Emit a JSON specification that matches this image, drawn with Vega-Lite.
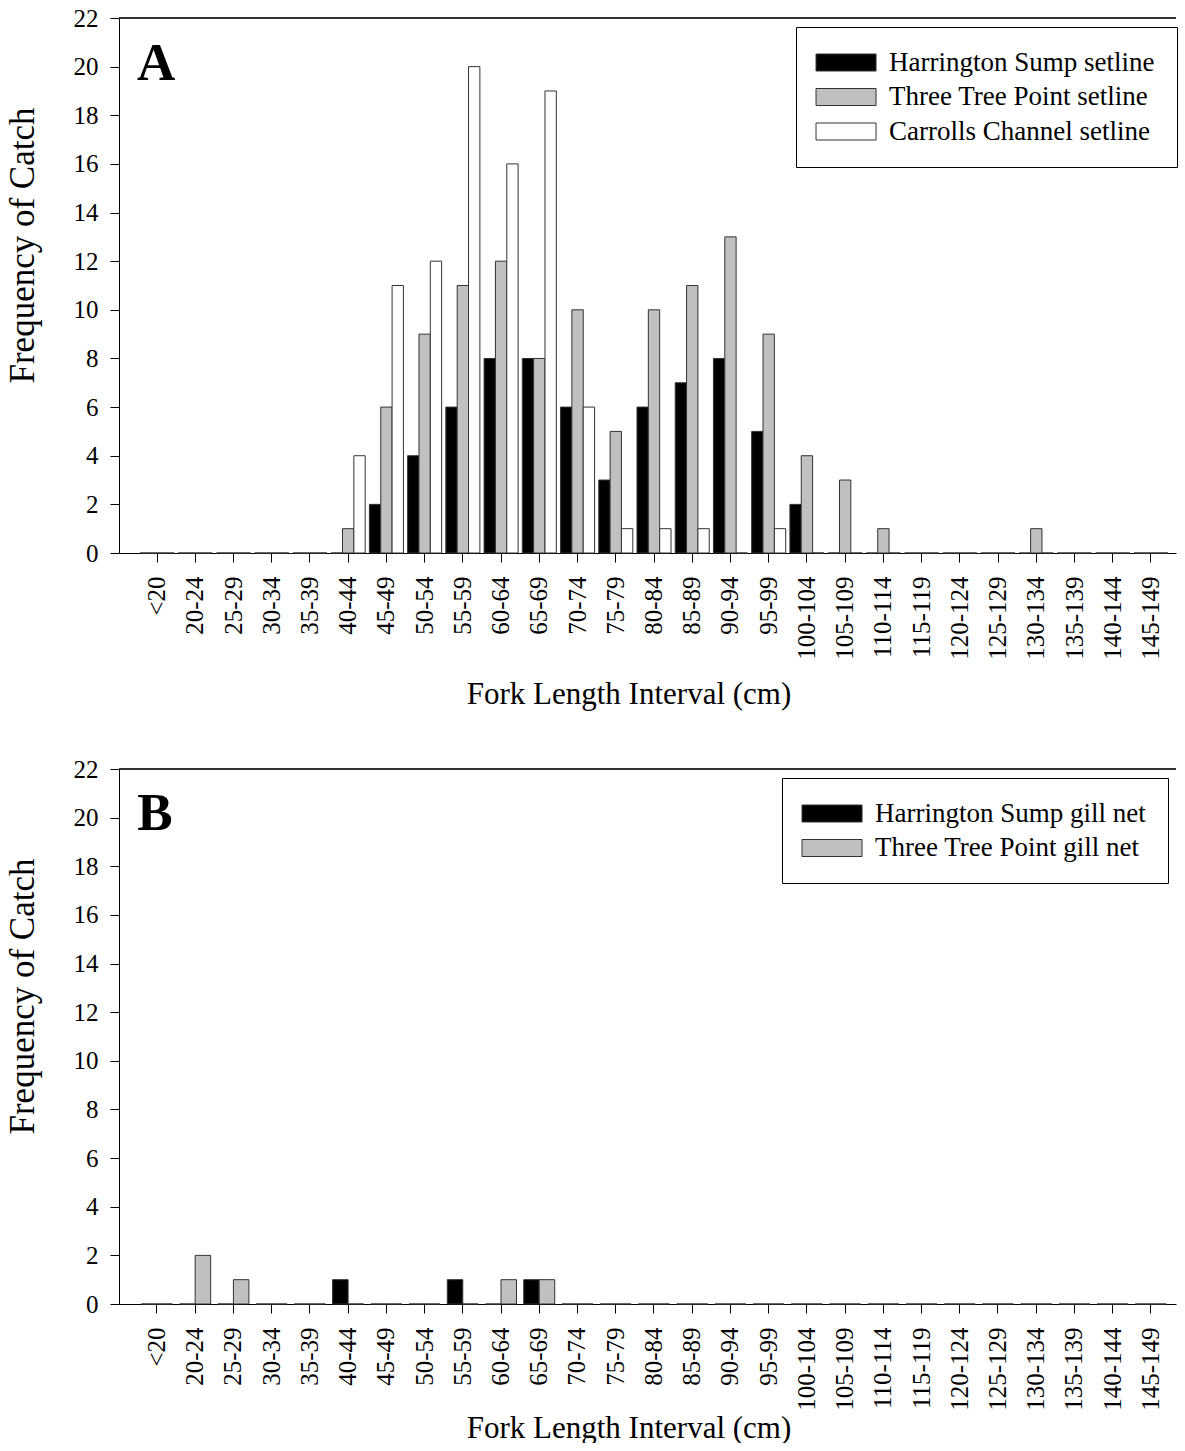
{
  "$schema": "https://vega.github.io/schema/vega-lite/v6.json",
  "background": "white",
  "padding": {"left": 5, "top": 6, "right": 0, "bottom": 0},
  "spacing": 48,
  "resolve": {"scale": {"x": "independent", "xOffset": "independent", "color": "independent", "y": "independent"}, "legend": {"color": "independent"}},
  "config": {
    "view": {"stroke": null},
    "font": "Liberation Serif",
    "axis": {
      "labelFont": "Liberation Serif",
      "titleFont": "Liberation Serif",
      "labelColor": "black",
      "titleColor": "black",
      "tickColor": "black",
      "domainColor": "black",
      "grid": false,
      "titleFontWeight": "normal",
      "labelFontSize": 25,
      "titleFontSize": 31,
      "tickSize": 9
    },
    "legend": {
      "labelFont": "Liberation Serif",
      "labelFontSize": 27,
      "labelColor": "black",
      "labelLimit": 400,
      "strokeColor": "black",
      "fillColor": "white",
      "padding": 22,
      "symbolType": "M-1.82,-1H5.24V1H-1.82Z",
      "symbolSize": 289,
      "symbolStrokeColor": "#333333",
      "symbolStrokeWidth": 1,
      "labelOffset": 44,
      "rowPadding": 6.5
    }
  },
  "datasets": {
    "A": [
      {"interval": "<20", "series": "Harrington Sump setline", "count": 0},
      {"interval": "<20", "series": "Three Tree Point setline", "count": 0},
      {"interval": "<20", "series": "Carrolls Channel setline", "count": 0},
      {"interval": "20-24", "series": "Harrington Sump setline", "count": 0},
      {"interval": "20-24", "series": "Three Tree Point setline", "count": 0},
      {"interval": "20-24", "series": "Carrolls Channel setline", "count": 0},
      {"interval": "25-29", "series": "Harrington Sump setline", "count": 0},
      {"interval": "25-29", "series": "Three Tree Point setline", "count": 0},
      {"interval": "25-29", "series": "Carrolls Channel setline", "count": 0},
      {"interval": "30-34", "series": "Harrington Sump setline", "count": 0},
      {"interval": "30-34", "series": "Three Tree Point setline", "count": 0},
      {"interval": "30-34", "series": "Carrolls Channel setline", "count": 0},
      {"interval": "35-39", "series": "Harrington Sump setline", "count": 0},
      {"interval": "35-39", "series": "Three Tree Point setline", "count": 0},
      {"interval": "35-39", "series": "Carrolls Channel setline", "count": 0},
      {"interval": "40-44", "series": "Harrington Sump setline", "count": 0},
      {"interval": "40-44", "series": "Three Tree Point setline", "count": 1},
      {"interval": "40-44", "series": "Carrolls Channel setline", "count": 4},
      {"interval": "45-49", "series": "Harrington Sump setline", "count": 2},
      {"interval": "45-49", "series": "Three Tree Point setline", "count": 6},
      {"interval": "45-49", "series": "Carrolls Channel setline", "count": 11},
      {"interval": "50-54", "series": "Harrington Sump setline", "count": 4},
      {"interval": "50-54", "series": "Three Tree Point setline", "count": 9},
      {"interval": "50-54", "series": "Carrolls Channel setline", "count": 12},
      {"interval": "55-59", "series": "Harrington Sump setline", "count": 6},
      {"interval": "55-59", "series": "Three Tree Point setline", "count": 11},
      {"interval": "55-59", "series": "Carrolls Channel setline", "count": 20},
      {"interval": "60-64", "series": "Harrington Sump setline", "count": 8},
      {"interval": "60-64", "series": "Three Tree Point setline", "count": 12},
      {"interval": "60-64", "series": "Carrolls Channel setline", "count": 16},
      {"interval": "65-69", "series": "Harrington Sump setline", "count": 8},
      {"interval": "65-69", "series": "Three Tree Point setline", "count": 8},
      {"interval": "65-69", "series": "Carrolls Channel setline", "count": 19},
      {"interval": "70-74", "series": "Harrington Sump setline", "count": 6},
      {"interval": "70-74", "series": "Three Tree Point setline", "count": 10},
      {"interval": "70-74", "series": "Carrolls Channel setline", "count": 6},
      {"interval": "75-79", "series": "Harrington Sump setline", "count": 3},
      {"interval": "75-79", "series": "Three Tree Point setline", "count": 5},
      {"interval": "75-79", "series": "Carrolls Channel setline", "count": 1},
      {"interval": "80-84", "series": "Harrington Sump setline", "count": 6},
      {"interval": "80-84", "series": "Three Tree Point setline", "count": 10},
      {"interval": "80-84", "series": "Carrolls Channel setline", "count": 1},
      {"interval": "85-89", "series": "Harrington Sump setline", "count": 7},
      {"interval": "85-89", "series": "Three Tree Point setline", "count": 11},
      {"interval": "85-89", "series": "Carrolls Channel setline", "count": 1},
      {"interval": "90-94", "series": "Harrington Sump setline", "count": 8},
      {"interval": "90-94", "series": "Three Tree Point setline", "count": 13},
      {"interval": "90-94", "series": "Carrolls Channel setline", "count": 0},
      {"interval": "95-99", "series": "Harrington Sump setline", "count": 5},
      {"interval": "95-99", "series": "Three Tree Point setline", "count": 9},
      {"interval": "95-99", "series": "Carrolls Channel setline", "count": 1},
      {"interval": "100-104", "series": "Harrington Sump setline", "count": 2},
      {"interval": "100-104", "series": "Three Tree Point setline", "count": 4},
      {"interval": "100-104", "series": "Carrolls Channel setline", "count": 0},
      {"interval": "105-109", "series": "Harrington Sump setline", "count": 0},
      {"interval": "105-109", "series": "Three Tree Point setline", "count": 3},
      {"interval": "105-109", "series": "Carrolls Channel setline", "count": 0},
      {"interval": "110-114", "series": "Harrington Sump setline", "count": 0},
      {"interval": "110-114", "series": "Three Tree Point setline", "count": 1},
      {"interval": "110-114", "series": "Carrolls Channel setline", "count": 0},
      {"interval": "115-119", "series": "Harrington Sump setline", "count": 0},
      {"interval": "115-119", "series": "Three Tree Point setline", "count": 0},
      {"interval": "115-119", "series": "Carrolls Channel setline", "count": 0},
      {"interval": "120-124", "series": "Harrington Sump setline", "count": 0},
      {"interval": "120-124", "series": "Three Tree Point setline", "count": 0},
      {"interval": "120-124", "series": "Carrolls Channel setline", "count": 0},
      {"interval": "125-129", "series": "Harrington Sump setline", "count": 0},
      {"interval": "125-129", "series": "Three Tree Point setline", "count": 0},
      {"interval": "125-129", "series": "Carrolls Channel setline", "count": 0},
      {"interval": "130-134", "series": "Harrington Sump setline", "count": 0},
      {"interval": "130-134", "series": "Three Tree Point setline", "count": 1},
      {"interval": "130-134", "series": "Carrolls Channel setline", "count": 0},
      {"interval": "135-139", "series": "Harrington Sump setline", "count": 0},
      {"interval": "135-139", "series": "Three Tree Point setline", "count": 0},
      {"interval": "135-139", "series": "Carrolls Channel setline", "count": 0},
      {"interval": "140-144", "series": "Harrington Sump setline", "count": 0},
      {"interval": "140-144", "series": "Three Tree Point setline", "count": 0},
      {"interval": "140-144", "series": "Carrolls Channel setline", "count": 0},
      {"interval": "145-149", "series": "Harrington Sump setline", "count": 0},
      {"interval": "145-149", "series": "Three Tree Point setline", "count": 0},
      {"interval": "145-149", "series": "Carrolls Channel setline", "count": 0}
    ],
    "B": [
      {"interval": "<20", "series": "Harrington Sump gill net", "count": 0},
      {"interval": "<20", "series": "Three Tree Point gill net", "count": 0},
      {"interval": "20-24", "series": "Harrington Sump gill net", "count": 0},
      {"interval": "20-24", "series": "Three Tree Point gill net", "count": 2},
      {"interval": "25-29", "series": "Harrington Sump gill net", "count": 0},
      {"interval": "25-29", "series": "Three Tree Point gill net", "count": 1},
      {"interval": "30-34", "series": "Harrington Sump gill net", "count": 0},
      {"interval": "30-34", "series": "Three Tree Point gill net", "count": 0},
      {"interval": "35-39", "series": "Harrington Sump gill net", "count": 0},
      {"interval": "35-39", "series": "Three Tree Point gill net", "count": 0},
      {"interval": "40-44", "series": "Harrington Sump gill net", "count": 1},
      {"interval": "40-44", "series": "Three Tree Point gill net", "count": 0},
      {"interval": "45-49", "series": "Harrington Sump gill net", "count": 0},
      {"interval": "45-49", "series": "Three Tree Point gill net", "count": 0},
      {"interval": "50-54", "series": "Harrington Sump gill net", "count": 0},
      {"interval": "50-54", "series": "Three Tree Point gill net", "count": 0},
      {"interval": "55-59", "series": "Harrington Sump gill net", "count": 1},
      {"interval": "55-59", "series": "Three Tree Point gill net", "count": 0},
      {"interval": "60-64", "series": "Harrington Sump gill net", "count": 0},
      {"interval": "60-64", "series": "Three Tree Point gill net", "count": 1},
      {"interval": "65-69", "series": "Harrington Sump gill net", "count": 1},
      {"interval": "65-69", "series": "Three Tree Point gill net", "count": 1},
      {"interval": "70-74", "series": "Harrington Sump gill net", "count": 0},
      {"interval": "70-74", "series": "Three Tree Point gill net", "count": 0},
      {"interval": "75-79", "series": "Harrington Sump gill net", "count": 0},
      {"interval": "75-79", "series": "Three Tree Point gill net", "count": 0},
      {"interval": "80-84", "series": "Harrington Sump gill net", "count": 0},
      {"interval": "80-84", "series": "Three Tree Point gill net", "count": 0},
      {"interval": "85-89", "series": "Harrington Sump gill net", "count": 0},
      {"interval": "85-89", "series": "Three Tree Point gill net", "count": 0},
      {"interval": "90-94", "series": "Harrington Sump gill net", "count": 0},
      {"interval": "90-94", "series": "Three Tree Point gill net", "count": 0},
      {"interval": "95-99", "series": "Harrington Sump gill net", "count": 0},
      {"interval": "95-99", "series": "Three Tree Point gill net", "count": 0},
      {"interval": "100-104", "series": "Harrington Sump gill net", "count": 0},
      {"interval": "100-104", "series": "Three Tree Point gill net", "count": 0},
      {"interval": "105-109", "series": "Harrington Sump gill net", "count": 0},
      {"interval": "105-109", "series": "Three Tree Point gill net", "count": 0},
      {"interval": "110-114", "series": "Harrington Sump gill net", "count": 0},
      {"interval": "110-114", "series": "Three Tree Point gill net", "count": 0},
      {"interval": "115-119", "series": "Harrington Sump gill net", "count": 0},
      {"interval": "115-119", "series": "Three Tree Point gill net", "count": 0},
      {"interval": "120-124", "series": "Harrington Sump gill net", "count": 0},
      {"interval": "120-124", "series": "Three Tree Point gill net", "count": 0},
      {"interval": "125-129", "series": "Harrington Sump gill net", "count": 0},
      {"interval": "125-129", "series": "Three Tree Point gill net", "count": 0},
      {"interval": "130-134", "series": "Harrington Sump gill net", "count": 0},
      {"interval": "130-134", "series": "Three Tree Point gill net", "count": 0},
      {"interval": "135-139", "series": "Harrington Sump gill net", "count": 0},
      {"interval": "135-139", "series": "Three Tree Point gill net", "count": 0},
      {"interval": "140-144", "series": "Harrington Sump gill net", "count": 0},
      {"interval": "140-144", "series": "Three Tree Point gill net", "count": 0},
      {"interval": "145-149", "series": "Harrington Sump gill net", "count": 0},
      {"interval": "145-149", "series": "Three Tree Point gill net", "count": 0}
    ]
  },
  "vconcat": [
    {
      "width": 1057,
      "height": 535,
      "data": {"name": "A"},
      "layer": [
        {
          "mark": {"type": "bar", "stroke": "#333333", "strokeWidth": 1},
          "encoding": {
            "x": {
              "field": "interval", "type": "nominal",
              "scale": {"domain": ["<20","20-24","25-29","30-34","35-39","40-44","45-49","50-54","55-59","60-64","65-69","70-74","75-79","80-84","85-89","90-94","95-99","100-104","105-109","110-114","115-119","120-124","125-129","130-134","135-139","140-144","145-149"], "paddingInner": 0.11, "paddingOuter": 0.38, "align": 0.724},
              "axis": {"title": "Fork Length Interval (cm)", "labelAngle": -90, "labelPadding": 14, "labelOverlap": false, "titleX": 509.5, "titleY": 150, "titleBaseline": "alphabetic"}
            },
            "xOffset": {
              "field": "series", "type": "nominal",
              "scale": {"domain": ["Harrington Sump setline", "Three Tree Point setline", "Carrolls Channel setline"], "paddingInner": 0, "paddingOuter": 0}
            },
            "y": {
              "field": "count", "type": "quantitative",
              "scale": {"domain": [0, 22], "nice": false},
              "axis": {"title": "Frequency of Catch", "titleFontSize": 35, "values": [0,2,4,6,8,10,12,14,16,18,20,22], "labelPadding": 12, "titleX": -79, "titleY": 227, "titleBaseline": "bottom"}
            },
            "color": {
              "field": "series", "type": "nominal",
              "scale": {"domain": ["Harrington Sump setline", "Three Tree Point setline", "Carrolls Channel setline"], "range": ["#000000", "#c0c0c0", "#ffffff"]},
              "legend": {"title": null, "orient": "none", "legendX": 677, "legendY": 9}
            }
          }
        },
        {
          "mark": {"type": "rule", "color": "#333333", "strokeWidth": 1},
          "encoding": {"y": {"datum": 22}}
        },
        {
          "data": {"values": [{"panel": "A"}]},
          "mark": {"type": "text", "font": "Liberation Serif", "fontSize": 53, "fontWeight": "bold", "color": "black", "align": "center", "baseline": "alphabetic", "dy": 62, "dx": -1},
          "encoding": {"x": {"datum": "<20"}, "y": {"datum": 22}, "text": {"field": "panel"}}
        }
      ]
    },
    {
      "width": 1057,
      "height": 535,
      "data": {"name": "B"},
      "layer": [
        {
          "mark": {"type": "bar", "stroke": "#333333", "strokeWidth": 1},
          "encoding": {
            "x": {
              "field": "interval", "type": "nominal",
              "scale": {"domain": ["<20","20-24","25-29","30-34","35-39","40-44","45-49","50-54","55-59","60-64","65-69","70-74","75-79","80-84","85-89","90-94","95-99","100-104","105-109","110-114","115-119","120-124","125-129","130-134","135-139","140-144","145-149"], "paddingInner": 0.19, "paddingOuter": 0.42, "align": 0.70},
              "axis": {"title": "Fork Length Interval (cm)", "labelAngle": -90, "labelPadding": 14, "labelOverlap": false, "titleX": 509.5, "titleY": 133, "titleBaseline": "alphabetic"}
            },
            "xOffset": {
              "field": "series", "type": "nominal",
              "scale": {"domain": ["Harrington Sump gill net", "Three Tree Point gill net"], "paddingInner": 0, "paddingOuter": 0}
            },
            "y": {
              "field": "count", "type": "quantitative",
              "scale": {"domain": [0, 22], "nice": false},
              "axis": {"title": "Frequency of Catch", "titleFontSize": 35, "values": [0,2,4,6,8,10,12,14,16,18,20,22], "labelPadding": 12, "titleX": -79, "titleY": 227, "titleBaseline": "bottom"}
            },
            "color": {
              "field": "series", "type": "nominal",
              "scale": {"domain": ["Harrington Sump gill net", "Three Tree Point gill net"], "range": ["#000000", "#c0c0c0"]},
              "legend": {"title": null, "orient": "none", "legendX": 663, "legendY": 9}
            }
          }
        },
        {
          "mark": {"type": "rule", "color": "#333333", "strokeWidth": 1},
          "encoding": {"y": {"datum": 22}}
        },
        {
          "data": {"values": [{"panel": "B"}]},
          "mark": {"type": "text", "font": "Liberation Serif", "fontSize": 53, "fontWeight": "bold", "color": "black", "align": "center", "baseline": "alphabetic", "dy": 61, "dx": -2},
          "encoding": {"x": {"datum": "<20"}, "y": {"datum": 22}, "text": {"field": "panel"}}
        }
      ]
    }
  ]
}
